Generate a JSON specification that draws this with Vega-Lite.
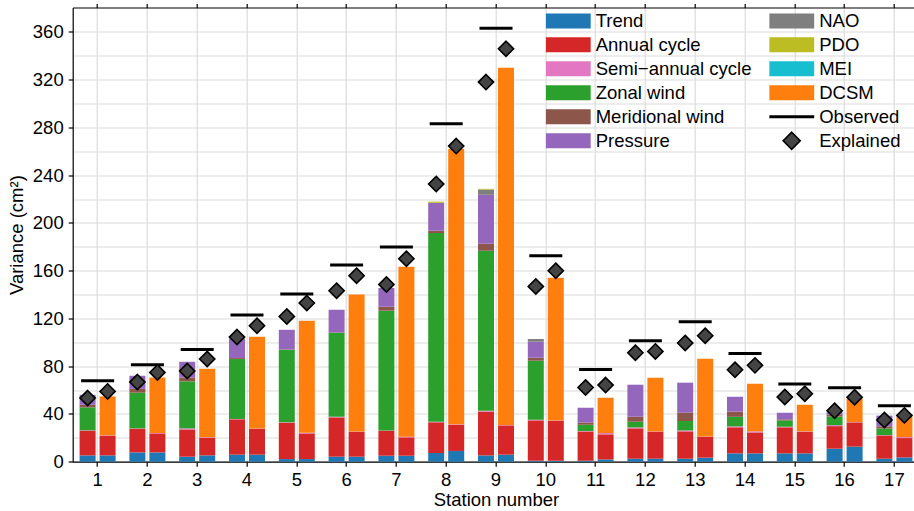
{
  "$schema": "https://vega.github.io/schema/vega-lite/v6.json",
  "width": 841,
  "height": 454.2,
  "autosize": {"type": "none"},
  "padding": {"left": 72.7, "top": 7.5, "right": 0.3, "bottom": 49.3},
  "config": {
    "font": "Liberation Sans",
    "view": {"stroke": null},
    "axis": {
      "labelFont": "Liberation Sans",
      "titleFont": "Liberation Sans",
      "labelFontSize": 18.5,
      "titleFontSize": 18.5,
      "titleFontWeight": "normal",
      "labelColor": "black",
      "titleColor": "black",
      "domainColor": "black",
      "domainWidth": 1.2,
      "tickColor": "black",
      "tickWidth": 1.2,
      "tickSize": 4.5,
      "gridColor": "#dcdcdc",
      "gridWidth": 1.2
    }
  },
  "datasets": {
    "components": [
      {"station": 1, "model": "Regression", "component": "Trend", "value": 5.3},
      {"station": 1, "model": "Regression", "component": "Annual cycle", "value": 20.7},
      {"station": 1, "model": "Regression", "component": "Semi−annual cycle", "value": 0.3},
      {"station": 1, "model": "Regression", "component": "Zonal wind", "value": 19.2},
      {"station": 1, "model": "Regression", "component": "Meridional wind", "value": 2.2},
      {"station": 1, "model": "Regression", "component": "Pressure", "value": 8.3},
      {"station": 1, "model": "DCSM", "component": "Trend", "value": 5.3},
      {"station": 1, "model": "DCSM", "component": "Annual cycle", "value": 16.5},
      {"station": 1, "model": "DCSM", "component": "Semi−annual cycle", "value": 0.3},
      {"station": 1, "model": "DCSM", "component": "DCSM", "value": 32.6},
      {"station": 2, "model": "Regression", "component": "Trend", "value": 7.8},
      {"station": 2, "model": "Regression", "component": "Annual cycle", "value": 19.8},
      {"station": 2, "model": "Regression", "component": "Semi−annual cycle", "value": 0.3},
      {"station": 2, "model": "Regression", "component": "Zonal wind", "value": 29.9},
      {"station": 2, "model": "Regression", "component": "Meridional wind", "value": 3.2},
      {"station": 2, "model": "Regression", "component": "Pressure", "value": 11},
      {"station": 2, "model": "DCSM", "component": "Trend", "value": 7.8},
      {"station": 2, "model": "DCSM", "component": "Annual cycle", "value": 15.9},
      {"station": 2, "model": "DCSM", "component": "Semi−annual cycle", "value": 0.3},
      {"station": 2, "model": "DCSM", "component": "DCSM", "value": 46.6},
      {"station": 3, "model": "Regression", "component": "Trend", "value": 4.2},
      {"station": 3, "model": "Regression", "component": "Annual cycle", "value": 22.8},
      {"station": 3, "model": "Regression", "component": "Semi−annual cycle", "value": 0.9},
      {"station": 3, "model": "Regression", "component": "Zonal wind", "value": 39.4},
      {"station": 3, "model": "Regression", "component": "Meridional wind", "value": 3.3},
      {"station": 3, "model": "Regression", "component": "Pressure", "value": 13.1},
      {"station": 3, "model": "DCSM", "component": "Trend", "value": 5.3},
      {"station": 3, "model": "DCSM", "component": "Annual cycle", "value": 14.8},
      {"station": 3, "model": "DCSM", "component": "Semi−annual cycle", "value": 0.3},
      {"station": 3, "model": "DCSM", "component": "DCSM", "value": 57.5},
      {"station": 4, "model": "Regression", "component": "Trend", "value": 5.9},
      {"station": 4, "model": "Regression", "component": "Annual cycle", "value": 29.6},
      {"station": 4, "model": "Regression", "component": "Semi−annual cycle", "value": 0.3},
      {"station": 4, "model": "Regression", "component": "Zonal wind", "value": 50.2},
      {"station": 4, "model": "Regression", "component": "Meridional wind", "value": 0.8},
      {"station": 4, "model": "Regression", "component": "Pressure", "value": 16.5},
      {"station": 4, "model": "DCSM", "component": "Trend", "value": 5.9},
      {"station": 4, "model": "DCSM", "component": "Annual cycle", "value": 21.7},
      {"station": 4, "model": "DCSM", "component": "Semi−annual cycle", "value": 0.3},
      {"station": 4, "model": "DCSM", "component": "DCSM", "value": 76.8},
      {"station": 5, "model": "Regression", "component": "Trend", "value": 2.2},
      {"station": 5, "model": "Regression", "component": "Annual cycle", "value": 30.5},
      {"station": 5, "model": "Regression", "component": "Semi−annual cycle", "value": 0.3},
      {"station": 5, "model": "Regression", "component": "Zonal wind", "value": 60.8},
      {"station": 5, "model": "Regression", "component": "Meridional wind", "value": 0.3},
      {"station": 5, "model": "Regression", "component": "Pressure", "value": 16.4},
      {"station": 5, "model": "DCSM", "component": "Trend", "value": 2.2},
      {"station": 5, "model": "DCSM", "component": "Annual cycle", "value": 21.5},
      {"station": 5, "model": "DCSM", "component": "Semi−annual cycle", "value": 0.5},
      {"station": 5, "model": "DCSM", "component": "DCSM", "value": 93.8},
      {"station": 6, "model": "Regression", "component": "Trend", "value": 4.2},
      {"station": 6, "model": "Regression", "component": "Annual cycle", "value": 32.9},
      {"station": 6, "model": "Regression", "component": "Semi−annual cycle", "value": 0.5},
      {"station": 6, "model": "Regression", "component": "Zonal wind", "value": 70.4},
      {"station": 6, "model": "Regression", "component": "Meridional wind", "value": 0.3},
      {"station": 6, "model": "Regression", "component": "Pressure", "value": 19},
      {"station": 6, "model": "DCSM", "component": "Trend", "value": 4.2},
      {"station": 6, "model": "DCSM", "component": "Annual cycle", "value": 20.9},
      {"station": 6, "model": "DCSM", "component": "Semi−annual cycle", "value": 0.2},
      {"station": 6, "model": "DCSM", "component": "DCSM", "value": 114.8},
      {"station": 7, "model": "Regression", "component": "Trend", "value": 5},
      {"station": 7, "model": "Regression", "component": "Annual cycle", "value": 21},
      {"station": 7, "model": "Regression", "component": "Semi−annual cycle", "value": 0.2},
      {"station": 7, "model": "Regression", "component": "Zonal wind", "value": 100.3},
      {"station": 7, "model": "Regression", "component": "Meridional wind", "value": 3.3},
      {"station": 7, "model": "Regression", "component": "Pressure", "value": 15.7},
      {"station": 7, "model": "DCSM", "component": "Trend", "value": 5},
      {"station": 7, "model": "DCSM", "component": "Annual cycle", "value": 15.4},
      {"station": 7, "model": "DCSM", "component": "Semi−annual cycle", "value": 0.6},
      {"station": 7, "model": "DCSM", "component": "DCSM", "value": 142.3},
      {"station": 8, "model": "Regression", "component": "Trend", "value": 7.3},
      {"station": 8, "model": "Regression", "component": "Annual cycle", "value": 25.7},
      {"station": 8, "model": "Regression", "component": "Semi−annual cycle", "value": 0.5},
      {"station": 8, "model": "Regression", "component": "Zonal wind", "value": 158},
      {"station": 8, "model": "Regression", "component": "Meridional wind", "value": 2},
      {"station": 8, "model": "Regression", "component": "Pressure", "value": 23.4},
      {"station": 8, "model": "Regression", "component": "PDO", "value": 1},
      {"station": 8, "model": "DCSM", "component": "Trend", "value": 9},
      {"station": 8, "model": "DCSM", "component": "Annual cycle", "value": 22},
      {"station": 8, "model": "DCSM", "component": "Semi−annual cycle", "value": 0.3},
      {"station": 8, "model": "DCSM", "component": "DCSM", "value": 230.6},
      {"station": 9, "model": "Regression", "component": "Trend", "value": 5.3},
      {"station": 9, "model": "Regression", "component": "Annual cycle", "value": 36.6},
      {"station": 9, "model": "Regression", "component": "Semi−annual cycle", "value": 0.8},
      {"station": 9, "model": "Regression", "component": "Zonal wind", "value": 134},
      {"station": 9, "model": "Regression", "component": "Meridional wind", "value": 5.9},
      {"station": 9, "model": "Regression", "component": "Pressure", "value": 41},
      {"station": 9, "model": "Regression", "component": "NAO", "value": 4.4},
      {"station": 9, "model": "Regression", "component": "PDO", "value": 0.6},
      {"station": 9, "model": "DCSM", "component": "Trend", "value": 5.9},
      {"station": 9, "model": "DCSM", "component": "Annual cycle", "value": 24.5},
      {"station": 9, "model": "DCSM", "component": "Semi−annual cycle", "value": 0.3},
      {"station": 9, "model": "DCSM", "component": "DCSM", "value": 299.3},
      {"station": 10, "model": "Regression", "component": "Trend", "value": 0.8},
      {"station": 10, "model": "Regression", "component": "Annual cycle", "value": 33.8},
      {"station": 10, "model": "Regression", "component": "Semi−annual cycle", "value": 0.6},
      {"station": 10, "model": "Regression", "component": "Zonal wind", "value": 49.4},
      {"station": 10, "model": "Regression", "component": "Meridional wind", "value": 2.5},
      {"station": 10, "model": "Regression", "component": "Pressure", "value": 13.4},
      {"station": 10, "model": "Regression", "component": "NAO", "value": 2.3},
      {"station": 10, "model": "DCSM", "component": "Trend", "value": 0.8},
      {"station": 10, "model": "DCSM", "component": "Annual cycle", "value": 33.5},
      {"station": 10, "model": "DCSM", "component": "Semi−annual cycle", "value": 0.2},
      {"station": 10, "model": "DCSM", "component": "DCSM", "value": 119.6},
      {"station": 11, "model": "Regression", "component": "Trend", "value": 0.8},
      {"station": 11, "model": "Regression", "component": "Annual cycle", "value": 24.6},
      {"station": 11, "model": "Regression", "component": "Semi−annual cycle", "value": 0.3},
      {"station": 11, "model": "Regression", "component": "Zonal wind", "value": 5.3},
      {"station": 11, "model": "Regression", "component": "Meridional wind", "value": 1.9},
      {"station": 11, "model": "Regression", "component": "Pressure", "value": 12.3},
      {"station": 11, "model": "DCSM", "component": "Trend", "value": 1.9},
      {"station": 11, "model": "DCSM", "component": "Annual cycle", "value": 21},
      {"station": 11, "model": "DCSM", "component": "Semi−annual cycle", "value": 1.1},
      {"station": 11, "model": "DCSM", "component": "DCSM", "value": 29.6},
      {"station": 12, "model": "Regression", "component": "Trend", "value": 2.5},
      {"station": 12, "model": "Regression", "component": "Annual cycle", "value": 25.4},
      {"station": 12, "model": "Regression", "component": "Semi−annual cycle", "value": 0.8},
      {"station": 12, "model": "Regression", "component": "Zonal wind", "value": 4.8},
      {"station": 12, "model": "Regression", "component": "Meridional wind", "value": 4.2},
      {"station": 12, "model": "Regression", "component": "Pressure", "value": 26.8},
      {"station": 12, "model": "DCSM", "component": "Trend", "value": 2.5},
      {"station": 12, "model": "DCSM", "component": "Annual cycle", "value": 22.6},
      {"station": 12, "model": "DCSM", "component": "Semi−annual cycle", "value": 0.3},
      {"station": 12, "model": "DCSM", "component": "DCSM", "value": 45},
      {"station": 13, "model": "Regression", "component": "Trend", "value": 2.5},
      {"station": 13, "model": "Regression", "component": "Annual cycle", "value": 22.9},
      {"station": 13, "model": "Regression", "component": "Semi−annual cycle", "value": 0.8},
      {"station": 13, "model": "Regression", "component": "Zonal wind", "value": 7.9},
      {"station": 13, "model": "Regression", "component": "Meridional wind", "value": 6.9},
      {"station": 13, "model": "Regression", "component": "Pressure", "value": 25.2},
      {"station": 13, "model": "DCSM", "component": "Trend", "value": 3.4},
      {"station": 13, "model": "DCSM", "component": "Annual cycle", "value": 17.5},
      {"station": 13, "model": "DCSM", "component": "Semi−annual cycle", "value": 0.3},
      {"station": 13, "model": "DCSM", "component": "DCSM", "value": 65.1},
      {"station": 14, "model": "Regression", "component": "Trend", "value": 7},
      {"station": 14, "model": "Regression", "component": "Annual cycle", "value": 21.8},
      {"station": 14, "model": "Regression", "component": "Semi−annual cycle", "value": 0.8},
      {"station": 14, "model": "Regression", "component": "Zonal wind", "value": 8},
      {"station": 14, "model": "Regression", "component": "Meridional wind", "value": 4.4},
      {"station": 14, "model": "Regression", "component": "Pressure", "value": 12.4},
      {"station": 14, "model": "DCSM", "component": "Trend", "value": 7},
      {"station": 14, "model": "DCSM", "component": "Annual cycle", "value": 17.5},
      {"station": 14, "model": "DCSM", "component": "Semi−annual cycle", "value": 0.9},
      {"station": 14, "model": "DCSM", "component": "DCSM", "value": 39.9},
      {"station": 15, "model": "Regression", "component": "Trend", "value": 7},
      {"station": 15, "model": "Regression", "component": "Annual cycle", "value": 21.8},
      {"station": 15, "model": "Regression", "component": "Semi−annual cycle", "value": 0.5},
      {"station": 15, "model": "Regression", "component": "Zonal wind", "value": 5.3},
      {"station": 15, "model": "Regression", "component": "Meridional wind", "value": 0.9},
      {"station": 15, "model": "Regression", "component": "Pressure", "value": 5.5},
      {"station": 15, "model": "DCSM", "component": "Trend", "value": 7},
      {"station": 15, "model": "DCSM", "component": "Annual cycle", "value": 18.1},
      {"station": 15, "model": "DCSM", "component": "Semi−annual cycle", "value": 0.3},
      {"station": 15, "model": "DCSM", "component": "DCSM", "value": 22.3},
      {"station": 16, "model": "Regression", "component": "Trend", "value": 10.9},
      {"station": 16, "model": "Regression", "component": "Annual cycle", "value": 18.9},
      {"station": 16, "model": "Regression", "component": "Semi−annual cycle", "value": 0.8},
      {"station": 16, "model": "Regression", "component": "Zonal wind", "value": 7.3},
      {"station": 16, "model": "Regression", "component": "Meridional wind", "value": 1.5},
      {"station": 16, "model": "Regression", "component": "Pressure", "value": 2},
      {"station": 16, "model": "DCSM", "component": "Trend", "value": 12.6},
      {"station": 16, "model": "DCSM", "component": "Annual cycle", "value": 20.3},
      {"station": 16, "model": "DCSM", "component": "Semi−annual cycle", "value": 0.3},
      {"station": 16, "model": "DCSM", "component": "DCSM", "value": 19.8},
      {"station": 17, "model": "Regression", "component": "Trend", "value": 2.5},
      {"station": 17, "model": "Regression", "component": "Annual cycle", "value": 19.5},
      {"station": 17, "model": "Regression", "component": "Semi−annual cycle", "value": 0.3},
      {"station": 17, "model": "Regression", "component": "Zonal wind", "value": 5.5},
      {"station": 17, "model": "Regression", "component": "Meridional wind", "value": 1.8},
      {"station": 17, "model": "Regression", "component": "Pressure", "value": 9},
      {"station": 17, "model": "DCSM", "component": "Trend", "value": 3.6},
      {"station": 17, "model": "DCSM", "component": "Annual cycle", "value": 16.2},
      {"station": 17, "model": "DCSM", "component": "Semi−annual cycle", "value": 0.8},
      {"station": 17, "model": "DCSM", "component": "DCSM", "value": 17.4}
    ],
    "observed": [
      {"station": 1, "observed": 67.8}, {"station": 2, "observed": 81.2},
      {"station": 3, "observed": 94}, {"station": 4, "observed": 122.8},
      {"station": 5, "observed": 140.4}, {"station": 6, "observed": 164.7},
      {"station": 7, "observed": 179.8}, {"station": 8, "observed": 283.1},
      {"station": 9, "observed": 363.2}, {"station": 10, "observed": 172.5},
      {"station": 11, "observed": 77.3}, {"station": 12, "observed": 101.3},
      {"station": 13, "observed": 117.3}, {"station": 14, "observed": 90.7},
      {"station": 15, "observed": 65}, {"station": 16, "observed": 62},
      {"station": 17, "observed": 46.9}
    ],
    "explained": [
      {"station": 1, "model": "Regression", "explained": 53.3}, {"station": 1, "model": "DCSM", "explained": 58.9},
      {"station": 2, "model": "Regression", "explained": 66.7}, {"station": 2, "model": "DCSM", "explained": 74.8},
      {"station": 3, "model": "Regression", "explained": 76}, {"station": 3, "model": "DCSM", "explained": 86},
      {"station": 4, "model": "Regression", "explained": 104.4}, {"station": 4, "model": "DCSM", "explained": 113.9},
      {"station": 5, "model": "Regression", "explained": 121.7}, {"station": 5, "model": "DCSM", "explained": 132.9},
      {"station": 6, "model": "Regression", "explained": 143.2}, {"station": 6, "model": "DCSM", "explained": 155.8},
      {"station": 7, "model": "Regression", "explained": 148.5}, {"station": 7, "model": "DCSM", "explained": 170},
      {"station": 8, "model": "Regression", "explained": 232.6}, {"station": 8, "model": "DCSM", "explained": 264.4},
      {"station": 9, "model": "Regression", "explained": 318}, {"station": 9, "model": "DCSM", "explained": 345.9},
      {"station": 10, "model": "Regression", "explained": 146.8}, {"station": 10, "model": "DCSM", "explained": 160},
      {"station": 11, "model": "Regression", "explained": 62.2}, {"station": 11, "model": "DCSM", "explained": 64.2},
      {"station": 12, "model": "Regression", "explained": 91.3}, {"station": 12, "model": "DCSM", "explained": 92.4},
      {"station": 13, "model": "Regression", "explained": 99.4}, {"station": 13, "model": "DCSM", "explained": 105.5},
      {"station": 14, "model": "Regression", "explained": 77}, {"station": 14, "model": "DCSM", "explained": 80.7},
      {"station": 15, "model": "Regression", "explained": 54.2}, {"station": 15, "model": "DCSM", "explained": 57},
      {"station": 16, "model": "Regression", "explained": 42.7}, {"station": 16, "model": "DCSM", "explained": 54},
      {"station": 17, "model": "Regression", "explained": 34.9}, {"station": 17, "model": "DCSM", "explained": 38.8}
    ]
  },
  "layer": [
    {
      "data": {"name": "components"},
      "mark": {"type": "bar", "opacity": 1},
      "encoding": {
        "x": {
          "field": "station", "type": "ordinal",
          "scale": {"range": [0, 846.6], "paddingInner": 0, "paddingOuter": 0},
          "axis": {"orient": "bottom", "title": "Station number", "labelAngle": 0, "grid": true, "labelPadding": 4, "titlePadding": 2}
        },
        "xOffset": {
          "field": "model", "type": "nominal", "sort": ["Regression", "DCSM"],
          "scale": {"paddingInner": 0.2, "paddingOuter": 0.345}
        },
        "y": {
          "field": "value", "type": "quantitative", "stack": "zero",
          "scale": {"domain": [0, 380.5], "nice": false, "zero": true},
          "axis": {
            "orient": "left",
            "title": "Variance (cm²)",
            "values": [0, 20, 40, 60, 80, 100, 120, 140, 160, 180, 200, 220, 240, 260, 280, 300, 320, 340, 360],
            "labelExpr": "datum.value % 40 === 0 ? datum.label : ''",
            "tickOpacity": {"condition": {"test": "datum.value % 40 === 0", "value": 1}, "value": 0},
            "grid": true,
            "labelOverlap": false,
            "labelPadding": 5,
            "titlePadding": 6
          }
        },
        "order": {"field": "station", "type": "quantitative"},
        "fill": {
          "field": "component", "type": "nominal",
          "scale": {
            "domain": ["Trend", "Annual cycle", "Semi−annual cycle", "Zonal wind", "Meridional wind", "Pressure", "NAO", "PDO", "MEI", "DCSM", "Observed", "Explained"],
            "range": ["#1f77b4", "#d62728", "#e377c2", "#2ca02c", "#8c564b", "#9467bd", "#7f7f7f", "#bcbd22", "#17becf", "#ff7f0e", "#000000", "#444444"]
          },
          "legend": {
            "orient": "none",
            "legendX": 473,
            "legendY": 1.4,
            "title": null,
            "columns": 2,
            "direction": "vertical",
            "values": ["Trend", "Annual cycle", "Semi−annual cycle", "Zonal wind", "Meridional wind", "Pressure", "NAO", "PDO", "MEI", "DCSM", "Observed", "Explained"],
            "symbolSize": 900,
            "symbolOffset": 6.5,
            "symbolOpacity": 1,
            "symbolStrokeWidth": 1.6,
            "labelFont": "Liberation Sans",
            "labelFontSize": 18.5,
            "labelColor": "black",
            "labelOffset": 11.5,
            "labelLimit": 400,
            "clipHeight": 23.7,
            "rowPadding": 0,
            "columnPadding": 17.5,
            "padding": 0
          }
        }
      }
    },
    {
      "data": {"name": "observed"},
      "mark": {"type": "tick", "color": "#000000", "thickness": 3, "size": 33, "opacity": 1},
      "encoding": {
        "x": {
          "field": "station", "type": "ordinal",
          "scale": {"range": [0, 846.6], "paddingInner": 0, "paddingOuter": 0},
          "axis": {"orient": "top", "labels": false, "title": null, "grid": false, "ticks": true, "tickSize": 4, "domain": true}
        },
        "y": {
          "field": "observed", "type": "quantitative",
          "scale": {"domain": [0, 380.5], "nice": false, "zero": true},
          "axis": {
            "orient": "left",
            "title": "Variance (cm²)",
            "values": [0, 20, 40, 60, 80, 100, 120, 140, 160, 180, 200, 220, 240, 260, 280, 300, 320, 340, 360],
            "labelExpr": "datum.value % 40 === 0 ? datum.label : ''",
            "tickOpacity": {"condition": {"test": "datum.value % 40 === 0", "value": 1}, "value": 0},
            "grid": true,
            "labelOverlap": false,
            "labelPadding": 5,
            "titlePadding": 6
          }
        }
      }
    },
    {
      "data": {"name": "explained"},
      "mark": {"type": "point", "filled": true, "strokeWidth": 1.6, "size": 720, "opacity": 1},
      "encoding": {
        "x": {
          "field": "station", "type": "ordinal",
          "scale": {"range": [0, 846.6], "paddingInner": 0, "paddingOuter": 0},
          "axis": null
        },
        "xOffset": {
          "field": "model", "type": "nominal", "sort": ["Regression", "DCSM"],
          "scale": {"paddingInner": 0.2, "paddingOuter": 0.345}
        },
        "y": {
          "field": "explained", "type": "quantitative",
          "scale": {"domain": [0, 380.5], "nice": false, "zero": true},
          "axis": {
            "orient": "left",
            "title": "Variance (cm²)",
            "values": [0, 20, 40, 60, 80, 100, 120, 140, 160, 180, 200, 220, 240, 260, 280, 300, 320, 340, 360],
            "labelExpr": "datum.value % 40 === 0 ? datum.label : ''",
            "tickOpacity": {"condition": {"test": "datum.value % 40 === 0", "value": 1}, "value": 0},
            "grid": true,
            "labelOverlap": false,
            "labelPadding": 5,
            "titlePadding": 6
          }
        },
        "fill": {
          "datum": "Explained", "type": "nominal",
          "scale": {
            "domain": ["Trend", "Annual cycle", "Semi−annual cycle", "Zonal wind", "Meridional wind", "Pressure", "NAO", "PDO", "MEI", "DCSM", "Observed", "Explained"],
            "range": ["#1f77b4", "#d62728", "#e377c2", "#2ca02c", "#8c564b", "#9467bd", "#7f7f7f", "#bcbd22", "#17becf", "#ff7f0e", "#000000", "#444444"]
          }
        },
        "shape": {
          "datum": "Explained", "type": "nominal",
          "scale": {
            "domain": ["Trend", "Annual cycle", "Semi−annual cycle", "Zonal wind", "Meridional wind", "Pressure", "NAO", "PDO", "MEI", "DCSM", "Observed", "Explained"],
            "range": ["M-1.5,-0.5H1.5V0.5H-1.5Z", "M-1.5,-0.5H1.5V0.5H-1.5Z", "M-1.5,-0.5H1.5V0.5H-1.5Z", "M-1.5,-0.5H1.5V0.5H-1.5Z", "M-1.5,-0.5H1.5V0.5H-1.5Z", "M-1.5,-0.5H1.5V0.5H-1.5Z", "M-1.5,-0.5H1.5V0.5H-1.5Z", "M-1.5,-0.5H1.5V0.5H-1.5Z", "M-1.5,-0.5H1.5V0.5H-1.5Z", "M-1.5,-0.5H1.5V0.5H-1.5Z", "M-1.5,-0.1H1.5V0.1H-1.5Z", "M0,-0.567L0.567,0L0,0.567L-0.567,0Z"]
          }
        },
        "stroke": {
          "datum": "Explained", "type": "nominal",
          "scale": {
            "domain": ["Trend", "Annual cycle", "Semi−annual cycle", "Zonal wind", "Meridional wind", "Pressure", "NAO", "PDO", "MEI", "DCSM", "Observed", "Explained"],
            "range": ["transparent", "transparent", "transparent", "transparent", "transparent", "transparent", "transparent", "transparent", "transparent", "transparent", "transparent", "#000000"]
          }
        }
      }
    }
  ],
  "resolve": {"axis": {"x": "independent"}}
}
